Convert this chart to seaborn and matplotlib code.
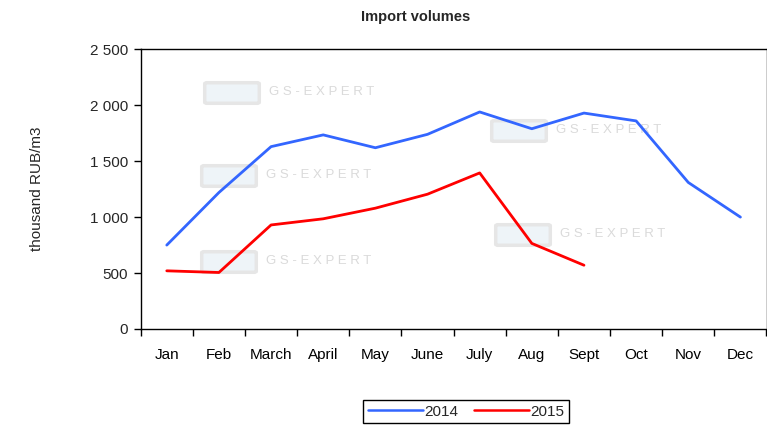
import numpy as np
import pandas as pd
import seaborn as sns
import matplotlib.pyplot as plt
from matplotlib.ticker import FuncFormatter, FixedLocator
from matplotlib.lines import Line2D
from matplotlib.patches import FancyBboxPatch

# Data
months = ["Jan", "Feb", "March", "April", "May", "June",
          "July", "Aug", "Sept", "Oct", "Nov", "Dec"]
vol_2014 = [750, 1220, 1630, 1735, 1620, 1740, 1940, 1790, 1930, 1860, 1310, 1000]
vol_2015 = [520, 505, 930, 985, 1080, 1205, 1395, 765, 570, np.nan, np.nan, np.nan]
years = ["2014", "2015"]
y_ticks = [0, 500, 1000, 1500, 2000, 2500]

df = pd.DataFrame({
    "idx": list(range(len(months))) * 2,
    "value": vol_2014 + vol_2015,
    "year": [years[0]] * len(months) + [years[1]] * len(months),
}).dropna()

sns.set_theme(style="white")
plt.rcParams["font.family"] = ["Liberation Sans", "DejaVu Sans"]

fig = plt.figure(figsize=(7.67, 4.26), dpi=100)
ax = fig.add_axes([140.7 / 767, 1 - 329 / 426, (766.5 - 140.7) / 767, (329 - 49.3) / 426])

sns.lineplot(data=df, x="idx", y="value", hue="year",
             palette={"2014": "#3366FF", "2015": "#FF0000"},
             linewidth=2, ax=ax, legend=False)

# faint watermarks (logo + text), kept under the lines
for (wx, wy) in [(207, 93), (204, 176), (204, 262), (494, 131), (498, 235)]:
    logo = FancyBboxPatch((wx / 767, 1 - (wy + 9) / 426), 50 / 767, 18 / 426,
                          boxstyle="round,pad=0.003", transform=fig.transFigure,
                          facecolor="#eef4f8", edgecolor="#e6e6e6", linewidth=2.5,
                          zorder=0.5, clip_on=False)
    ax.add_patch(logo)
    ax.text((wx + 62) / 767, 1 - (wy - 1) / 426, "G S - E X P E R T", fontsize=9.5,
            color="#dadada", ha="left", va="center", zorder=0.5,
            transform=fig.transFigure)

ax.set_xlim(-0.5, len(months) - 0.5)
ax.set_ylim(0, 2500)
ax.yaxis.set_major_locator(FixedLocator(y_ticks))
ax.yaxis.set_major_formatter(FuncFormatter(lambda v, p: f"{v:,.0f}".replace(",", " ")))
ax.set_xticks(range(len(months)))
ax.set_xticklabels(months)
ax.set_xticks(np.arange(-0.5, len(months)), minor=True)
ax.tick_params(axis="x", which="major", length=0, pad=14, labelsize=11, colors="black")
ax.tick_params(axis="x", which="minor", length=5, width=1, color="black", direction="out")
ax.tick_params(axis="y", length=5, width=1, color="black", direction="out", labelsize=11, pad=4)
ax.tick_params(axis="both", bottom=True, left=True)
ax.tick_params(axis="x", which="minor", bottom=True)
ax.set_xlabel("")
ax.set_ylabel("thousand RUB/m3", fontsize=11, labelpad=33)
for s in ax.spines.values():
    s.set_color("black")
    s.set_linewidth(1)

fig.text(416 / 767, 1 - 17 / 426, "Import volumes", ha="center", va="center",
         fontsize=10.5, fontweight="bold")

handles = [Line2D([], [], color="#3366FF", lw=1.8), Line2D([], [], color="#FF0000", lw=1.8)]
leg = fig.legend(handles, years, loc="upper center", bbox_to_anchor=(466 / 767, 1 - 400 / 426),
                 ncol=2, frameon=True, fancybox=False, edgecolor="black", framealpha=1,
                 fontsize=11, handlelength=3.6, handletextpad=0.1, columnspacing=1.0,
                 borderpad=0.3, borderaxespad=0)
leg.get_frame().set_linewidth(1)

fig.savefig("out.png", dpi=100)
